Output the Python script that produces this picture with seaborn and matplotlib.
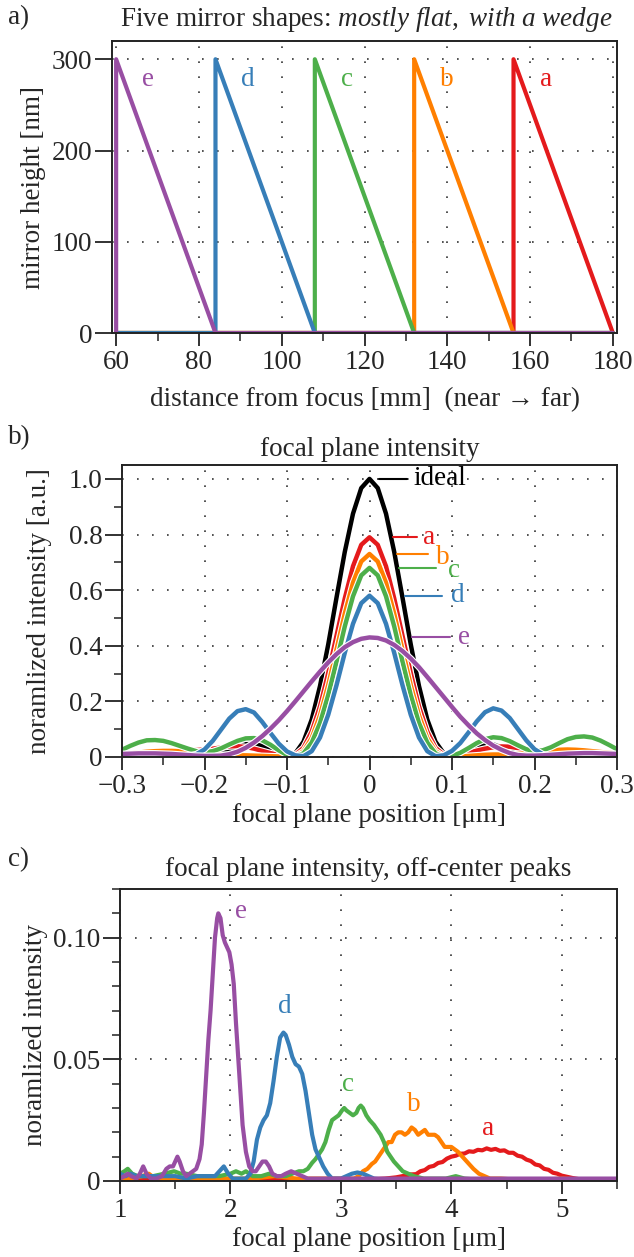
import numpy as np
import matplotlib
matplotlib.use("Agg")
import matplotlib.pyplot as plt
import matplotlib.patheffects as pe
from matplotlib.ticker import MultipleLocator, FuncFormatter
import seaborn as sns

# ---- panel a: mirror shapes (wedge start / end, height in nm)
mirrors = ["a", "b", "c", "d", "e"]
wedge_start = [156, 132, 108, 84, 60]
wedge_end = [180, 156, 132, 108, 84]
wedge_height = 300
mirror_x0, mirror_x1 = 60, 180

colors = {"ideal": "#000000", "a": "#E41A1C", "b": "#FF7F00", "c": "#4DAF4A",
          "d": "#377EB8", "e": "#984EA3"}

# ---- panel b: focal plane intensity, x = -0.30 .. 0.30 step 0.01
pos_b = np.linspace(-0.3, 0.3, 61)
ideal_b = [0.006, 0.006, 0.008, 0.011, 0.014, 0.016, 0.015, 0.012, 0.008, 0.004,
           0.003, 0.005, 0.012, 0.023, 0.036, 0.046, 0.048, 0.040, 0.025, 0.009,
           0.002, 0.013, 0.055, 0.135, 0.255, 0.405, 0.573, 0.737, 0.875, 0.967,
           1.000, 0.967, 0.875, 0.737, 0.573, 0.405, 0.255, 0.135, 0.055, 0.013,
           0.002, 0.008, 0.024, 0.039, 0.047, 0.045, 0.036, 0.023, 0.012, 0.005,
           0.003, 0.004, 0.008, 0.012, 0.015, 0.016, 0.014, 0.011, 0.008, 0.006, 0.006]
a_b = [0.015, 0.016, 0.017, 0.018, 0.019, 0.020, 0.021, 0.022, 0.024, 0.025,
       0.027, 0.030, 0.034, 0.038, 0.039, 0.036, 0.030, 0.022, 0.014, 0.007,
       0.004, 0.008, 0.033, 0.092, 0.182, 0.302, 0.436, 0.570, 0.686, 0.763,
       0.790, 0.763, 0.686, 0.570, 0.436, 0.302, 0.182, 0.092, 0.033, 0.008,
       0.004, 0.008, 0.015, 0.023, 0.030, 0.035, 0.038, 0.037, 0.032, 0.026,
       0.021, 0.018, 0.016, 0.016, 0.016, 0.016, 0.016, 0.016, 0.016, 0.016, 0.016]
b_b = [0.010, 0.013, 0.016, 0.019, 0.021, 0.022, 0.022, 0.021, 0.019, 0.016,
       0.013, 0.010, 0.008, 0.007, 0.006, 0.006, 0.005, 0.004, 0.003, 0.002,
       0.001, 0.003, 0.021, 0.069, 0.150, 0.259, 0.386, 0.515, 0.627, 0.703,
       0.730, 0.703, 0.627, 0.515, 0.386, 0.259, 0.150, 0.069, 0.021, 0.003,
       0.001, 0.002, 0.004, 0.006, 0.008, 0.009, 0.009, 0.009, 0.011, 0.014,
       0.018, 0.021, 0.024, 0.026, 0.027, 0.026, 0.024, 0.021, 0.018, 0.015, 0.013]
c_b = [0.026, 0.040, 0.052, 0.060, 0.061, 0.058, 0.050, 0.040, 0.030, 0.021,
       0.017, 0.021, 0.031, 0.045, 0.058, 0.067, 0.068, 0.060, 0.044, 0.024,
       0.007, 0.003, 0.013, 0.052, 0.122, 0.223, 0.343, 0.469, 0.578, 0.653,
       0.680, 0.653, 0.578, 0.469, 0.343, 0.223, 0.122, 0.052, 0.013, 0.002,
       0.004, 0.015, 0.032, 0.050, 0.064, 0.071, 0.068, 0.057, 0.042, 0.028,
       0.021, 0.024, 0.035, 0.050, 0.064, 0.072, 0.074, 0.070, 0.059, 0.044, 0.028]
d_b = [0.004, 0.004, 0.004, 0.005, 0.005, 0.005, 0.004, 0.004, 0.005, 0.010,
       0.027, 0.058, 0.098, 0.138, 0.165, 0.172, 0.160, 0.126, 0.086, 0.048,
       0.020, 0.006, 0.003, 0.021, 0.070, 0.152, 0.258, 0.374, 0.479, 0.553,
       0.580, 0.553, 0.479, 0.374, 0.258, 0.152, 0.070, 0.021, 0.003, 0.006,
       0.022, 0.050, 0.088, 0.128, 0.161, 0.175, 0.167, 0.140, 0.100, 0.060,
       0.028, 0.010, 0.005, 0.004, 0.004, 0.005, 0.005, 0.005, 0.004, 0.004, 0.004]
e_b = [0.011, 0.012, 0.013, 0.013, 0.013, 0.012, 0.011, 0.009, 0.007, 0.005,
       0.004, 0.004, 0.005, 0.010, 0.019, 0.033, 0.052, 0.075, 0.102, 0.132,
       0.165, 0.200, 0.236, 0.272, 0.307, 0.340, 0.370, 0.395, 0.413, 0.425,
       0.430, 0.428, 0.419, 0.403, 0.381, 0.354, 0.323, 0.288, 0.252, 0.216,
       0.180, 0.145, 0.114, 0.085, 0.061, 0.041, 0.026, 0.014, 0.007, 0.005,
       0.005, 0.006, 0.008, 0.010, 0.012, 0.013, 0.014, 0.014, 0.013, 0.012, 0.011]

# ---- panel c: off-center peaks
a_cx = [1.00, 1.20, 1.40, 1.60, 1.80, 2.00, 2.20, 2.40, 2.60, 2.80, 3.00, 3.20, 3.40, 3.50,
        3.58, 3.63, 3.68, 3.72, 3.76, 3.80, 3.84, 3.88, 3.92, 3.96, 4.00, 4.04, 4.08, 4.12,
        4.16, 4.20, 4.24, 4.28, 4.32, 4.36, 4.40, 4.44, 4.48, 4.52, 4.56, 4.60, 4.64, 4.68,
        4.72, 4.76, 4.80, 4.84, 4.88, 4.92, 4.96, 5.00, 5.05, 5.10, 5.15, 5.20, 5.30, 5.50]
a_cy = [0.001, 0.0005, 0.001, 0.0005, 0.0005, 0.0005, 0.001, 0.0005, 0.0005, 0.0005, 0.0005,
        0.0005, 0.001, 0.0015, 0.0022, 0.0027, 0.0028, 0.0040, 0.0045, 0.0058, 0.0062, 0.0074,
        0.0078, 0.0092, 0.0100, 0.0104, 0.0112, 0.0113, 0.0122, 0.0120, 0.0128, 0.0126, 0.0134,
        0.0128, 0.0132, 0.0124, 0.0126, 0.0116, 0.0116, 0.0104, 0.0100, 0.0088, 0.0082, 0.0068,
        0.0064, 0.0050, 0.0046, 0.0034, 0.0030, 0.0022, 0.0017, 0.0012, 0.0008, 0.0005, 0.0003,
        0.0003]
b_cx = [1.00, 1.10, 1.20, 1.26, 1.32, 1.45, 1.60, 1.80, 2.00, 2.20, 2.40, 2.60, 2.80, 2.95,
        3.05, 3.12, 3.16, 3.20, 3.24, 3.28, 3.31, 3.34, 3.37, 3.40, 3.43, 3.46, 3.49, 3.52,
        3.55, 3.58, 3.61, 3.64, 3.67, 3.70, 3.73, 3.76, 3.79, 3.82, 3.85, 3.88, 3.91, 3.94,
        3.97, 4.00, 4.03, 4.06, 4.10, 4.15, 4.20, 4.25, 4.30, 4.35, 4.45, 4.60, 4.80, 5.00,
        5.20, 5.50]
b_cy = [0.001, 0.001, 0.002, 0.003, 0.001, 0.001, 0.001, 0.001, 0.001, 0.001, 0.002, 0.001,
        0.001, 0.001, 0.001, 0.001, 0.002, 0.004, 0.005, 0.007, 0.008, 0.010, 0.012, 0.014,
        0.016, 0.016, 0.019, 0.020, 0.020, 0.019, 0.020, 0.022, 0.021, 0.019, 0.020, 0.021,
        0.019, 0.019, 0.019, 0.018, 0.016, 0.014, 0.014, 0.014, 0.013, 0.012, 0.010, 0.0075,
        0.005, 0.003, 0.002, 0.001, 0.001, 0.0005, 0.0005, 0.001, 0.0005, 0.0005]
c_cx = [1.00, 1.04, 1.07, 1.11, 1.16, 1.22, 1.30, 1.40, 1.49, 1.55, 1.60, 1.70, 1.80, 1.90,
        2.00, 2.05, 2.10, 2.14, 2.20, 2.28, 2.35, 2.42, 2.50, 2.56, 2.62, 2.66, 2.70, 2.74,
        2.77, 2.80, 2.83, 2.86, 2.89, 2.92, 2.95, 2.98, 3.01, 3.03, 3.05, 3.08, 3.11, 3.14,
        3.16, 3.18, 3.20, 3.23, 3.26, 3.30, 3.33, 3.36, 3.39, 3.42, 3.45, 3.48, 3.52, 3.56,
        3.61, 3.66, 3.75, 3.85, 3.95, 4.04, 4.12, 4.25, 4.50, 5.00, 5.50]
c_cy = [0.003, 0.004, 0.005, 0.003, 0.002, 0.002, 0.002, 0.003, 0.004, 0.003, 0.003, 0.002,
        0.002, 0.002, 0.003, 0.004, 0.003, 0.004, 0.002, 0.002, 0.003, 0.002, 0.002, 0.003,
        0.004, 0.004, 0.005, 0.0075, 0.009, 0.011, 0.013, 0.016, 0.021, 0.025, 0.026, 0.027,
        0.029, 0.030, 0.029, 0.028, 0.027, 0.028, 0.030, 0.031, 0.030, 0.027, 0.025, 0.023,
        0.021, 0.019, 0.016, 0.012, 0.010, 0.008, 0.006, 0.004, 0.003, 0.002, 0.001, 0.001,
        0.001, 0.002, 0.001, 0.0005, 0.0005, 0.0005, 0.0005]
d_cx = [1.00, 1.05, 1.10, 1.15, 1.20, 1.30, 1.40, 1.50, 1.60, 1.70, 1.80, 1.86, 1.90, 1.94,
        1.98, 2.02, 2.08, 2.14, 2.18, 2.21, 2.24, 2.27, 2.30, 2.33, 2.36, 2.39, 2.42, 2.45,
        2.48, 2.50, 2.53, 2.56, 2.59, 2.62, 2.65, 2.68, 2.71, 2.74, 2.77, 2.80, 2.84, 2.88,
        2.92, 2.96, 3.00, 3.05, 3.10, 3.15, 3.20, 3.25, 3.30, 3.40, 3.60, 4.00, 4.50, 5.00, 5.50]
d_cy = [0.003, 0.002, 0.003, 0.002, 0.002, 0.002, 0.002, 0.002, 0.001, 0.002, 0.002, 0.002,
        0.004, 0.006, 0.003, 0.001, 0.001, 0.001, 0.003, 0.008, 0.017, 0.022, 0.025, 0.027,
        0.032, 0.041, 0.051, 0.059, 0.061, 0.060, 0.056, 0.051, 0.048, 0.047, 0.044, 0.037,
        0.028, 0.019, 0.013, 0.010, 0.006, 0.003, 0.001, 0.001, 0.001, 0.002, 0.003, 0.0035,
        0.003, 0.002, 0.001, 0.0005, 0.0005, 0.0005, 0.0005, 0.0005, 0.0005]
e_cx = [1.00, 1.04, 1.07, 1.10, 1.15, 1.18, 1.21, 1.24, 1.28, 1.33, 1.38, 1.42, 1.45, 1.48,
        1.50, 1.52, 1.54, 1.57, 1.60, 1.63, 1.66, 1.69, 1.72, 1.74, 1.76, 1.78, 1.80, 1.82,
        1.84, 1.86, 1.88, 1.89, 1.91, 1.93, 1.95, 1.97, 1.99, 2.01, 2.03, 2.05, 2.08, 2.11,
        2.14, 2.17, 2.20, 2.23, 2.26, 2.29, 2.32, 2.35, 2.38, 2.42, 2.46, 2.50, 2.55, 2.60,
        2.65, 2.70, 2.80, 3.00, 3.50, 4.00, 4.50, 5.00, 5.50]
e_cy = [0.001, 0.002, 0.003, 0.002, 0.001, 0.003, 0.006, 0.003, 0.001, 0.001, 0.002, 0.005,
        0.006, 0.006, 0.008, 0.010, 0.008, 0.004, 0.002, 0.003, 0.004, 0.005, 0.009, 0.015,
        0.028, 0.043, 0.058, 0.070, 0.085, 0.100, 0.108, 0.110, 0.108, 0.101, 0.098, 0.096,
        0.094, 0.089, 0.081, 0.065, 0.044, 0.023, 0.012, 0.006, 0.004, 0.004, 0.006, 0.008,
        0.008, 0.006, 0.003, 0.002, 0.002, 0.003, 0.004, 0.003, 0.002, 0.001, 0.001, 0.001,
        0.001, 0.001, 0.001, 0.001, 0.001]

# ---- style
sns.set_style("ticks")
plt.rcParams["font.family"] = ["Liberation Serif", "DejaVu Serif"]
plt.rcParams["mathtext.fontset"] = "custom"
plt.rcParams["mathtext.rm"] = "Liberation Serif"
plt.rcParams["mathtext.it"] = "Liberation Serif:italic"
TICK = 19.5
LAB = 19.5
plt.rcParams["font.size"] = LAB

W, H = 634, 1257
fig = plt.figure(figsize=(W / 100, H / 100), dpi=100)


def rect(l, t, r, b):
    return [l / W, 1 - b / H, (r - l) / W, (b - t) / H]


def style(ax):
    for s in ax.spines.values():
        s.set_color("#222222")
        s.set_linewidth(1.4)
    ax.tick_params(which="both", direction="out", color="#222222", labelsize=TICK,
                   top=False, right=False)
    ax.tick_params(axis="y", which="major", length=12, width=1.3, pad=2)
    ax.tick_params(axis="x", which="major", length=9, width=1.3, pad=3)
    ax.tick_params(which="minor", length=6, width=1.1)
    ax.grid(True, which="major", color="#333333", linestyle=(0, (1, 8)), linewidth=1.2)
    ax.set_axisbelow(True)


def zero_fmt(fmt):
    return FuncFormatter(lambda v, p: "0" if abs(v) < 1e-9 else (fmt % v).replace("-", "\u2212"))


# ================= panel a
ax = fig.add_axes(rect(112, 41, 617, 333))
style(ax)
for m, s, e in zip(mirrors, wedge_start, wedge_end):
    xs = [mirror_x0, s, s, e, mirror_x1]
    ys = [0, 0, wedge_height, 0, 0]
    sns.lineplot(x=xs, y=ys, ax=ax, color=colors[m], linewidth=3.0,
                 sort=False, estimator=None)
    ax.text(s + 7.8, 278, m, color=colors[m], ha="center", va="center", fontsize=LAB)
ax.set_xlim(59, 181)
ax.set_ylim(0, 320)
ax.xaxis.set_major_locator(MultipleLocator(20))
ax.xaxis.set_minor_locator(MultipleLocator(10))
ax.yaxis.set_major_locator(MultipleLocator(100))
ax.set_xlabel("distance from focus [mm]  (near \u2192 far)", fontsize=LAB, labelpad=9)
ax.set_ylabel("mirror height [nm]", fontsize=LAB, labelpad=4)
fig.text(366 / W, 1 - 19 / H,
         "Five mirror shapes: $\\mathit{mostly\\ flat,\\ with\\ a\\ wedge}$",
         ha="center", va="center", fontsize=LAB)
fig.text(8 / W, 1 - 18 / H, "a)", ha="left", va="center", fontsize=LAB)

# ================= panel b
ax = fig.add_axes(rect(122, 465, 617, 757))
style(ax)
white = [pe.Stroke(linewidth=4.8, foreground="white"), pe.Normal()]
series_b = [("ideal", ideal_b), ("a", a_b), ("b", b_b), ("c", c_b), ("d", d_b), ("e", e_b)]
for name, ys in series_b:
    sns.lineplot(x=pos_b, y=ys, ax=ax, color=colors[name], linewidth=3.2,
                 sort=False, estimator=None, path_effects=white)
# line-segment labels next to the peaks
lab_seg = {"ideal": (0.011, 0.045, 0.053), "a": (0.029, 0.057, 0.065),
           "b": (0.033, 0.071, 0.081), "c": (0.036, 0.081, 0.095),
           "d": (0.043, 0.088, 0.099), "e": (0.051, 0.098, 0.107)}
lab_dy = {"ideal": 0.0, "a": 0.0, "b": -0.012, "c": -0.008, "d": 0.0, "e": 0.0}
for name, ys in series_b:
    x0, x1, xt = lab_seg[name]
    yl = max(ys)
    ax.plot([x0, x1], [yl, yl], color=colors[name], linewidth=1.5)
    ax.text(xt, yl + lab_dy[name], name, color=colors[name], ha="left", va="center",
            fontsize=LAB)
ax.set_xlim(-0.3, 0.3)
ax.set_ylim(0, 1.05)
ax.xaxis.set_major_locator(MultipleLocator(0.1))
ax.xaxis.set_minor_locator(MultipleLocator(0.05))
ax.yaxis.set_major_locator(MultipleLocator(0.2))
ax.yaxis.set_minor_locator(MultipleLocator(0.1))
ax.xaxis.set_major_formatter(zero_fmt("%.1f"))
ax.yaxis.set_major_formatter(zero_fmt("%.1f"))
ax.set_xlabel("focal plane position [\u03bcm]", fontsize=LAB, labelpad=3)
ax.set_ylabel("noramlized intensity [a.u.]", fontsize=LAB, labelpad=12)
fig.text(370 / W, 1 - 449 / H, "focal plane intensity", ha="center", va="center",
         fontsize=LAB)
fig.text(8 / W, 1 - 438 / H, "b)", ha="left", va="center", fontsize=LAB)

# ================= panel c
ax = fig.add_axes(rect(120, 889, 617, 1181))
style(ax)
series_c = [("a", a_cx, a_cy), ("b", b_cx, b_cy), ("c", c_cx, c_cy),
            ("d", d_cx, d_cy), ("e", e_cx, e_cy)]
lab_c = {"a": (4.335, 0.0216), "b": (3.658, 0.0316), "c": (3.066, 0.0398),
         "d": (2.496, 0.0716), "e": (2.10, 0.1107)}
for name, xs, ys in series_c:
    sns.lineplot(x=xs, y=ys, ax=ax, color=colors[name], linewidth=3.0,
                 sort=False, estimator=None)
    ax.text(*lab_c[name], name, color=colors[name], ha="center", va="center", fontsize=LAB)
ax.set_xlim(1, 5.5)
ax.set_ylim(0, 0.12)
ax.xaxis.set_major_locator(MultipleLocator(1))
ax.xaxis.set_minor_locator(MultipleLocator(0.5))
ax.yaxis.set_major_locator(MultipleLocator(0.05))
ax.yaxis.set_minor_locator(MultipleLocator(0.01))
ax.xaxis.set_major_formatter(FuncFormatter(lambda v, p: "%d" % round(v)))
ax.yaxis.set_major_formatter(zero_fmt("%.2f"))
ax.set_xlabel("focal plane position [\u03bcm]", fontsize=LAB, labelpad=3)
ax.set_ylabel("noramlized intensity", fontsize=LAB, labelpad=4)
fig.text(368 / W, 1 - 869 / H, "focal plane intensity, off-center peaks",
         ha="center", va="center", fontsize=LAB)
fig.text(8 / W, 1 - 860 / H, "c)", ha="left", va="center", fontsize=LAB)

fig.savefig("out.png", dpi=100)
